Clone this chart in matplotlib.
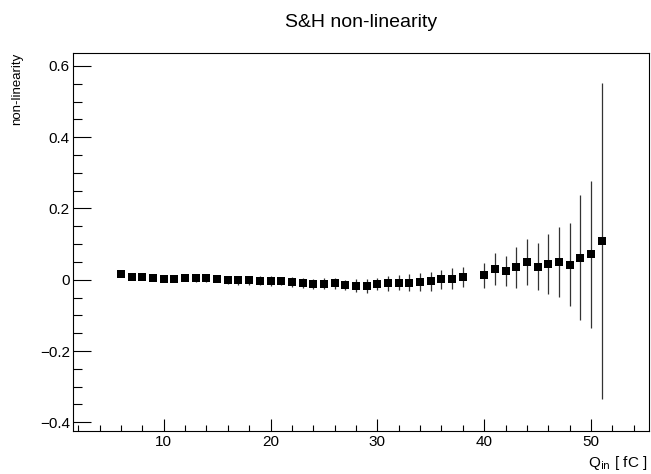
import numpy as np
import matplotlib
matplotlib.use("Agg")
import matplotlib.pyplot as plt
from matplotlib.ticker import MultipleLocator

# charge points (fC), 39 is missing in the measurement
q_in = [6, 7, 8, 9, 10, 11, 12, 13, 14, 15, 16, 17, 18, 19, 20, 21, 22,
        23, 24, 25, 26, 27, 28, 29, 30, 31, 32, 33, 34, 35, 36, 37, 38,
        40, 41, 42, 43, 44, 45, 46, 47, 48, 49, 50, 51]

nonlin = [0.015, 0.009, 0.007, 0.004, 0.001, 0.002, 0.005, 0.004, 0.004, 0.002,
          -0.001, -0.002, -0.002, -0.003, -0.003, -0.004, -0.006,
          -0.008, -0.011, -0.011, -0.010, -0.015, -0.017, -0.017, -0.011, -0.010,
          -0.008, -0.008, -0.006, -0.004, 0.001, 0.003, 0.008,
          0.012, 0.030, 0.024, 0.035, 0.049, 0.037, 0.044, 0.049, 0.042,
          0.062, 0.072, 0.109]

nonlin_err = [0.004, 0.004, 0.005, 0.006, 0.007, 0.007, 0.008, 0.010, 0.009, 0.009,
              0.011, 0.013, 0.012, 0.013, 0.014, 0.012, 0.015,
              0.014, 0.014, 0.015, 0.016, 0.015, 0.018, 0.019, 0.017, 0.021,
              0.021, 0.024, 0.025, 0.027, 0.026, 0.030, 0.029,
              0.035, 0.045, 0.042, 0.058, 0.064, 0.066, 0.085, 0.098, 0.116,
              0.175, 0.206, 0.443]

plt.rcParams['font.family'] = ['Liberation Sans', 'DejaVu Sans']

fig = plt.figure(figsize=(6.51, 4.74), dpi=100)
ax = fig.add_axes([0.1117, 0.0913, 0.8857, 0.7975])

ax.errorbar(q_in, nonlin, yerr=nonlin_err, fmt='s', color='black',
            ecolor='#333333', markersize=6, markeredgewidth=0,
            elinewidth=0.9, capsize=2.2, capthick=1.0)

ax.set_xlim(1.48, 55.46)
ax.set_ylim(-0.4236, 0.637)

# ROOT-like axes: ticks inside, only left and bottom
ax.xaxis.set_major_locator(MultipleLocator(10))
ax.xaxis.set_minor_locator(MultipleLocator(2))
ax.yaxis.set_major_locator(MultipleLocator(0.2))
ax.yaxis.set_minor_locator(MultipleLocator(0.05))
ax.tick_params(axis='both', which='both', direction='in', top=False, right=False,
               width=0.8, labelsize=11)
ax.tick_params(axis='y', which='major', length=13, pad=2)
ax.tick_params(axis='y', which='minor', length=6.5)
ax.tick_params(axis='x', which='major', length=8.6, pad=3)
ax.tick_params(axis='x', which='minor', length=4.3)
ax.yaxis.set_major_formatter(plt.FuncFormatter(
    lambda v, p: '0' if abs(v) < 1e-9 else ('%.1f' % v).replace('-', '\u2212')))
for s in ax.spines.values():
    s.set_linewidth(0.8)

fig.text(361 / 651, 1 - 27.3 / 474, 'S&H non-linearity', fontsize=14,
         ha='center', va='baseline')
fig.text(17 / 651, 0.8888, 'non-linearity', fontsize=9.5, rotation=90,
         ha='center', va='top')
fig.text(648 / 651, 1 - 466.7 / 474, r'Q$_{\mathrm{in}}$ [ fC ]', fontsize=11,
         ha='right', va='baseline')

fig.savefig('out.png', dpi=100)
